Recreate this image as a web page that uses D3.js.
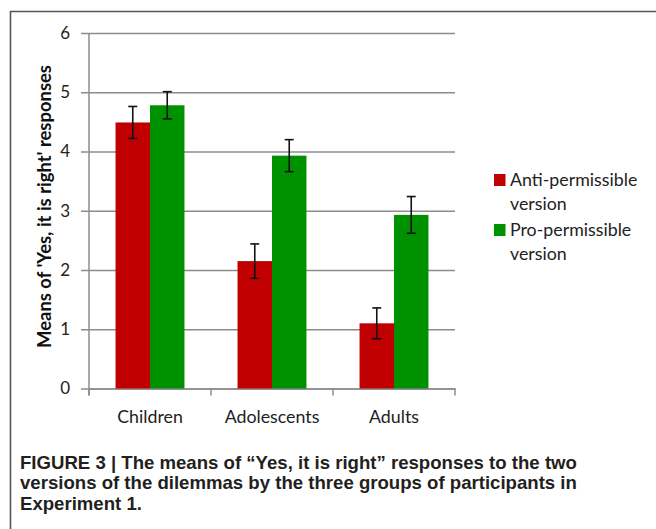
<!DOCTYPE html>
<html>
<head>
<meta charset="utf-8">
<script src="https://cdn.jsdelivr.net/npm/d3@7"></script>
<style>
  html, body { margin: 0; padding: 0; background: #fff; }
  svg { display: block; }
</style>
</head>
<body>
<svg id="chart" width="656" height="529"></svg>
<script>
// Groups of participants and the two dilemma versions
const categories = ["Children", "Adolescents", "Adults"];
const seriesNames = ["Anti-permissible version", "Pro-permissible version"];
const legendLines = [["Anti-permissible", "version"], ["Pro-permissible", "version"]];
// Mean "Yes, it is right" responses
const antiMeans = [4.49, 2.15, 1.10];
const proMeans = [4.78, 3.93, 2.93];
// Error bar half-lengths
const antiErr = [0.27, 0.29, 0.26];
const proErr = [0.23, 0.27, 0.31];
const yTicks = [0, 1, 2, 3, 4, 5, 6];
const captionLines = [
  "FIGURE 3 | The means of \u201cYes, it is right\u201d responses to the two",
  "versions of the dilemmas by the three groups of participants in",
  "Experiment 1."
];

const colors = ["#c00000", "#009100"];
const svg = d3.select("#chart");

// outer frame (open to the right and bottom)
svg.append("path")
  .attr("d", "M10.5,529 L10.5,11.5 L656,11.5")
  .attr("fill", "none")
  .attr("stroke", "#555")
  .attr("stroke-width", 1.6);

const plot = { left: 89, right: 455, top: 33, bottom: 388.5 };

const x0 = d3.scaleBand().domain(categories).range([plot.left, plot.right]).padding(0);
const x1 = d3.scaleBand().domain(seriesNames).range([0, x0.bandwidth()])
  .paddingInner(0).paddingOuter(0.77);
const y = d3.scaleLinear().domain([0, 6]).range([plot.bottom, plot.top]);

const gridColor = "#8c8c8c";
const font = "Lato, 'Open Sans', sans-serif";

// horizontal gridlines with outward ticks
const yAxis = d3.axisLeft(y).tickValues(yTicks).tickSize(-(plot.right - plot.left)).tickPadding(19)
  .tickFormat(d3.format("d"));
const gy = svg.append("g").attr("transform", `translate(${plot.left},0)`).call(yAxis);
gy.select(".domain").remove();
gy.selectAll(".tick line").attr("stroke", gridColor).attr("stroke-width", 1.5).attr("x1", -8);
gy.selectAll(".tick text").attr("fill", "#222").style("font-family", font).style("font-size", "17px");

// vertical axis line
svg.append("line")
  .attr("x1", plot.left).attr("x2", plot.left)
  .attr("y1", plot.top).attr("y2", plot.bottom + 7)
  .attr("stroke", gridColor).attr("stroke-width", 1.5);

// category axis
const xAxis = d3.axisBottom(x0).tickSize(0).tickPadding(20);
const gx = svg.append("g").attr("transform", `translate(0,${plot.bottom})`).call(xAxis);
gx.select(".domain").attr("stroke", gridColor).attr("stroke-width", 1.5);
gx.selectAll(".tick text").attr("fill", "#222").style("font-family", font).style("font-size", "17.8px")
  .attr("dy", "0.8em");
// category separator ticks
const sepPositions = categories.map(c => x0(c)).concat([x0(categories[categories.length - 1]) + x0.bandwidth()]);
gx.selectAll(".sep").data(sepPositions).enter().append("line")
  .attr("class", "sep")
  .attr("x1", d => d).attr("x2", d => d)
  .attr("y1", 0).attr("y2", 7)
  .attr("stroke", gridColor).attr("stroke-width", 1.5);

// bars
const rows = categories.map((c, i) => ({
  category: c,
  values: [
    { series: seriesNames[0], mean: antiMeans[i], err: antiErr[i], color: colors[0] },
    { series: seriesNames[1], mean: proMeans[i], err: proErr[i], color: colors[1] }
  ]
}));

const groups = svg.append("g").selectAll("g").data(rows).enter().append("g")
  .attr("transform", d => `translate(${x0(d.category)},0)`);

groups.selectAll("rect").data(d => d.values).enter().append("rect")
  .attr("x", d => x1(d.series))
  .attr("width", x1.bandwidth())
  .attr("y", d => y(d.mean))
  .attr("height", d => y(0) - y(d.mean))
  .attr("fill", d => d.color);

// error bars
const capHalf = 4.5;
const eb = groups.selectAll("g.err").data(d => d.values).enter().append("g").attr("class", "err")
  .attr("stroke", "#111").attr("stroke-width", 1.6);
eb.append("line")
  .attr("x1", d => x1(d.series) + x1.bandwidth() / 2)
  .attr("x2", d => x1(d.series) + x1.bandwidth() / 2)
  .attr("y1", d => y(d.mean + d.err))
  .attr("y2", d => y(d.mean - d.err));
eb.append("line")
  .attr("x1", d => x1(d.series) + x1.bandwidth() / 2 - capHalf)
  .attr("x2", d => x1(d.series) + x1.bandwidth() / 2 + capHalf)
  .attr("y1", d => y(d.mean + d.err))
  .attr("y2", d => y(d.mean + d.err));
eb.append("line")
  .attr("x1", d => x1(d.series) + x1.bandwidth() / 2 - capHalf)
  .attr("x2", d => x1(d.series) + x1.bandwidth() / 2 + capHalf)
  .attr("y1", d => y(d.mean - d.err))
  .attr("y2", d => y(d.mean - d.err));

// y-axis title
const yTitle = svg.append("text")
  .attr("transform", `translate(51,206.5) rotate(-90)`)
  .attr("text-anchor", "middle")
  .attr("fill", "#111")
  .style("font-family", font)
  .style("font-weight", "bold")
  .style("font-size", "15px")
  .text("Means of 'Yes, it is right' responses");
// size the title to span the plot height
const titleLen = yTitle.node().getComputedTextLength();
yTitle.style("font-size", (15 * 283 / titleLen).toFixed(2) + "px");

// legend
const legend = svg.append("g").attr("transform", "translate(494,174)");
const items = legend.selectAll("g").data(seriesNames).enter().append("g")
  .attr("transform", (d, i) => `translate(0,${i * 50})`);
items.append("rect").attr("width", 11.5).attr("height", 12)
  .attr("fill", (d, i) => colors[i]);
items.append("text")
  .attr("x", 16)
  .attr("fill", "#222")
  .style("font-family", font)
  .style("font-size", "17.8px")
  .selectAll("tspan").data((d, i) => legendLines[i]).enter().append("tspan")
  .attr("x", 16)
  .attr("y", (d, j) => 12 + j * 24)
  .text(d => d);

// caption
const cap = svg.append("g").attr("transform", "translate(20,0)");
const capText = cap.selectAll("text").data(captionLines).enter().append("text")
  .attr("x", 0)
  .attr("y", (d, i) => 469 + i * 20.5)
  .attr("fill", "#231f20")
  .style("font-family", "'Liberation Sans', Arial, sans-serif")
  .style("font-weight", "bold")
  .style("font-size", "18px")
  .text(d => d);
// condense the caption to the figure's text width
const firstWidth = capText.nodes()[0].getComputedTextLength();
const sx = 557 / firstWidth;
cap.attr("transform", `translate(20,0) scale(${sx},1)`);
</script>
</body>
</html>
